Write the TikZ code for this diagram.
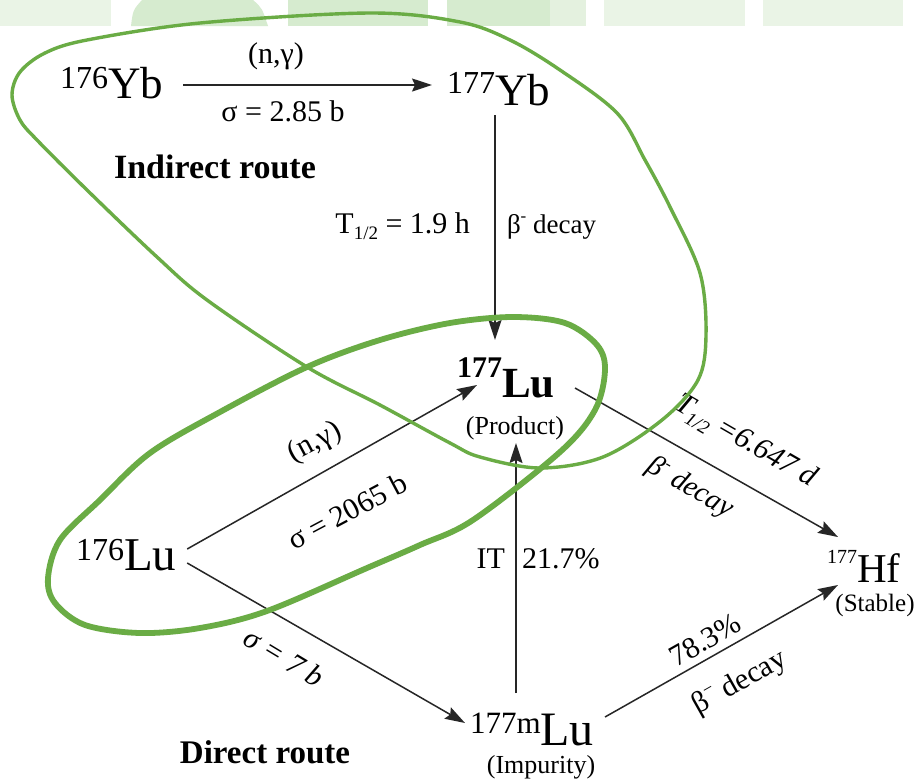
\documentclass[tikz,border=0pt]{standalone}
\usepackage{fontspec}
\setmainfont{Liberation Serif}
\usetikzlibrary{arrows.meta}

\definecolor{leaf}{RGB}{106,172,69}
\definecolor{bandA}{RGB}{234,244,230}
\definecolor{bandB}{RGB}{214,235,207}

\newcommand{\fs}[1]{\fontsize{#1}{#1}\selectfont}
% sup text, sup size, raise, main text, main size
\newcommand{\nucl}[5]{{\fs{#2}\raisebox{#3}{#1}}{\fs{#5}#4}}

\tikzset{
  nucnode/.style={inner sep=0pt, outer sep=0pt, anchor=base west},
  lab/.style={inner sep=0pt, outer sep=0pt, font=\fs{30}},
  sublab/.style={inner sep=0pt, outer sep=0pt, font=\fs{26}},
  conn/.style={draw=black!85, line width=1.5pt, -{Stealth[length=20pt,width=13pt,inset=3pt]}},
  thinloop/.style={draw=leaf, line width=3.4pt},
  thickloop/.style={draw=leaf, line width=5.8pt},
}

\begin{document}
\begin{tikzpicture}[x=1pt, y=-1pt]
\useasboundingbox (0,0) rectangle (923,780);
\fill[white] (0,0) rectangle (923,780);

% background band
\fill[bandA] (0,0) rectangle (111,26);
\fill[bandB] (131,26) .. controls (133,10) .. (142,0) -- (253,0) .. controls (262,8) .. (268,26) -- cycle;
\fill[bandB] (288,0) rectangle (428,26);
\fill[bandB] (447,0) rectangle (550,26);
\fill[bandA!70!bandB] (550,0) rectangle (586,26);
\fill[bandA] (604,0) rectangle (745,26);
\fill[bandA] (763,0) rectangle (903,26);

% nuclides
\node[nucnode] (yb176) at (60,98) {\nucl{176}{32}{10pt}{Yb}{45}};
\node[nucnode] (yb177) at (447,105) {\nucl{177}{32}{12pt}{Yb}{45}};
\node[nucnode, font=\bfseries] (lu177) at (457,397) {\nucl{177}{30}{20pt}{Lu}{43}};
\node[nucnode] (lu176) at (76,570) {\nucl{176}{32}{10pt}{Lu}{47}};
\node[nucnode] (mlu177) at (470,745) {\nucl{177m}{31}{12pt}{Lu}{48}};
\node[nucnode] (hf177) at (827,582) {\nucl{177}{20}{19pt}{Hf}{41}};

\node[sublab] (prod) at (515,428) {(Product)};
\node[sublab] (impur) at (541,767) {(Impurity)};
\node[sublab, font=\fs{25}] (stab) at (875,605) {(Stable)};

% route titles
\node[inner sep=0pt, font=\fs{34}\bfseries, anchor=base] (indirect) at (215,178) {Indirect route};
\node[inner sep=0pt, font=\fs{33}\bfseries, anchor=base] (direct) at (265,763) {Direct route};

% connectors
\draw[conn] ([shift={(20pt,13pt)}]yb176.base east) -- ([shift={(-15pt,20pt)}]yb177.base west);
\draw[conn] ([shift={(48pt,-10pt)}]yb177.base west) -- ([shift={(38pt,57pt)}]lu177.base west);
\draw[conn] ([shift={(11pt,21pt)}]lu176.base east) -- ([shift={(20pt,12pt)}]lu177.base west);
\draw[conn] ([shift={(11pt,7pt)}]lu176.base east) -- ([shift={(-5pt,22pt)}]mlu177.base west);
\draw[conn] ([shift={(46pt,52pt)}]mlu177.base west) -- ([shift={(59pt,-46pt)}]lu177.base west);
\draw[conn] ([shift={(118pt,9pt)}]lu177.base west) -- ([shift={(11pt,45pt)}]hf177.base west);
\draw[conn] ([shift={(135pt,28pt)}]mlu177.base west) -- ([shift={(11pt,-3pt)}]hf177.base west);

% labels, indirect route
\node[lab, font=\fs{30}] (ngA) at (276,56) {(n,γ)};
\node[lab, font=\fs{30}, anchor=base] (sigA) at (283,121) {σ = 2.85 b};
\node[lab, anchor=base east] (thalfB) at (470,233) {T\raisebox{-0.22em}{\fs{19}1/2} = 1.9 h};
\node[lab, font=\fs{27}, anchor=base west] (betaB) at (507,233) {β\raisebox{0.42em}{\fs{17}-} decay};

% labels, direct route
\node[lab, rotate=28] (ngC) at (315,443) {(n,γ)};
\node[lab, rotate=28] (sigC) at (347,511) {σ = 2065 b};
\node[lab, rotate=-31, font=\fs{30}\itshape] (sigD) at (284,657) {σ = 7 b};
\node[lab, anchor=base east] (itE) at (505,568) {IT};
\node[lab, anchor=base west] (pctE) at (522,568) {21.7\%};
\node[lab, rotate=-30, font=\fs{30}\itshape] (thalfF) at (745,442) {T\raisebox{-0.25em}{\fs{19}1/2} =6.647 d};
\node[lab, rotate=-30, font=\fs{29}\itshape] (betaF) at (690,488) {β\raisebox{0.42em}{\fs{17}-} decay};
\node[lab, rotate=29.5] (pctG) at (705,640) {78.3\%};
\node[lab, rotate=29.5] (betaG) at (740,683) {β\raisebox{0.4em}{\fs{18}−} decay};

% green route outlines
\draw[thinloop] plot[smooth cycle, tension=0.55] coordinates {
  (370,13) (460,22) (510,40) (560,70) (617,113) (645,160) (670,207)
  (700,273) (706,335) (698,380) (662,420) (603,457) (540,468) (480,457)
  (450,443) (380,405) (307,367) (207,300) (157,257) (87,190) (37,140)
  (20,120) (12,95) (20,72) (45,53) (87,40) (200,23)};
\draw[thickloop] plot[smooth cycle, tension=0.55] coordinates {
  (513,317) (565,323) (597,345) (605,370) (595,410) (560,452) (473,520)
  (420,545) (367,568) (267,611) (200,628) (140,633) (85,625) (55,603)
  (48,578) (60,540) (100,500) (150,453) (220,412) (307,367) (380,340)
  (450,323)};
\end{tikzpicture}
\end{document}
